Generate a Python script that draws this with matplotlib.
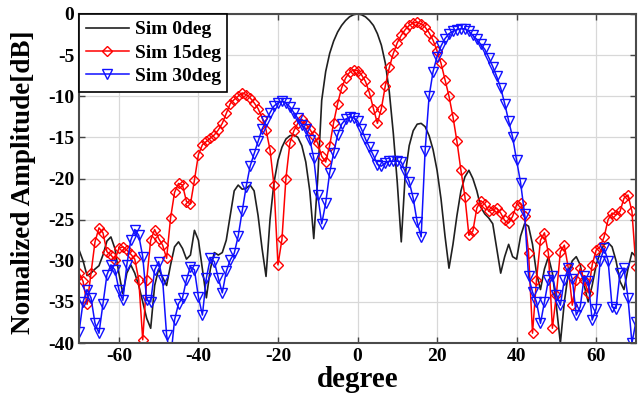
import numpy as np
import matplotlib
matplotlib.use("Agg")
import matplotlib.pyplot as plt

plt.rcParams['font.family'] = ['Liberation Serif', 'DejaVu Serif']
plt.rcParams['font.weight'] = 'bold'
plt.rcParams['axes.unicode_minus'] = False

# angulo de -70 a 70 grados, paso 1
deg = np.arange(-70, 71)

# Sim 0deg (linea negra)
sim0 = [-28.7, -30, -31.8, -31.5, -31, -30.6, -29.3, -27.6, -27.1, -28.5,
        -31.5, -34, -31.5, -30.5, -31.5, -33, -35, -37, -38.2, -33,
        -31, -32, -33, -30.5, -28.3, -27.7, -28.5, -29.8, -29.3, -26.3,
        -27.5, -31, -34.5, -31, -29, -29.3, -29, -27.5, -24.5, -21.5,
        -20.8, -21.3, -21.2, -20.8, -21.5, -24.5, -28.5, -31.9, -25, -20.5,
        -17.8, -16.2, -15.2, -14.8, -14.7, -15.0, -16, -18, -21.5, -27.3,
        -20, -10.5, -7, -4.8, -3.3, -2.2, -1.4, -0.8, -0.35, -0.1,
        0, -0.1, -0.35, -0.8, -1.4, -2.4, -3.8, -6, -9.5, -14.5,
        -20.5, -27.7, -19.5, -16, -14.2, -13.4, -13.3, -13.7, -14.8, -16.5,
        -19, -22.5, -27, -30.9, -28, -24.5, -21.5, -19.8, -19.0, -20,
        -21.5, -23.5, -24.3, -24.8, -25.5, -28.5, -31.5, -29.5, -28, -29.5,
        -29.8, -27, -25.5, -25.8, -28, -31.5, -33.5, -31, -29.5, -31.5,
        -35.5, -40, -35, -31.5, -30, -29.5, -30.5, -33, -35, -33,
        -30.5, -29, -28, -27.8, -28.3, -30, -32.5, -33.5, -31, -29,
        -29.5]

# Sim 15deg (rojo, rombos)
sim15 = [-31.5, -32.5, -35.3, -31.5, -27.7, -26, -26.6, -28.9, -29.3, -29.9,
         -28.5, -28.3, -28.7, -29.2, -29.8, -32.3, -39.6, -32.3, -27.5, -26.2,
         -27.3, -28.1, -29.7, -24.8, -21.7, -20.6, -20.8, -22.8, -23.1, -20.2,
         -17.1, -15.9, -15.5, -15.1, -14.7, -14.1, -13.3, -12.1, -10.9, -10.4,
         -10, -9.6, -9.8, -10.2, -10.8, -11.5, -12.6, -14.1, -16.5, -20.8,
         -30.5, -27.4, -20, -15.7, -14.2, -13.3, -12.8, -13.4, -14, -14.8,
         -15.7, -17.3, -18, -16, -13.2, -10.9, -9, -7.8, -7.1, -6.8,
         -6.9, -7.4, -8.2, -9.6, -11.5, -13.3, -11.5, -8.7, -6.5, -4.8,
         -3.5, -2.6, -1.9, -1.4, -1.1, -1.0, -1.2, -1.6, -2.3, -3.2,
         -4.5, -6, -8, -10, -12.5, -15.5, -19, -22.2, -26.9, -26.4,
         -23.6, -22.7, -23.1, -24, -23.8, -23.6, -24.2, -25.1, -25.4, -24.6,
         -23.2, -23, -24.5, -29, -38.8, -32.3, -27.5, -26.6, -29.1, -38.2,
         -34.1, -28.9, -28.1, -30.9, -35.4, -32.3, -30.9, -32.3, -33.9, -30.5,
         -28.7, -28.3, -27.1, -25, -24.2, -24.4, -24, -22.4, -22, -24,
         -30.7]

# Sim 30deg (azul, triangulos)
sim30 = [-38.6, -35, -33.5, -34.5, -37.6, -38.8, -35.2, -31.7, -30.5, -31.1,
         -33.5, -34.8, -30.5, -27.5, -26.2, -26.9, -29.5, -34.8, -35, -31.1,
         -30.1, -32.3, -39, -42, -37.2, -35.2, -34.5, -32.3, -30.7, -31.1,
         -34.4, -36.6, -32.1, -29.7, -30.1, -32.1, -33.9, -31.3, -29.9, -29.1,
         -27, -24, -21, -18.5, -17, -15.5, -14, -13, -12, -11.2,
         -10.8, -10.6, -10.8, -11.3, -12, -12.7, -13.5, -14, -15.3, -17.5,
         -22, -25.5, -23, -19.3, -16.9, -14.7, -13.4, -12.8, -12.5, -12.6,
         -13, -14, -15.2, -16.2, -17.2, -18.3, -18.5, -18.1, -17.9, -17.9,
         -17.9, -18, -19.2, -20.4, -22.4, -25.3, -27.1, -16.6, -10, -7,
         -5.2, -3.9, -3, -2.4, -2.1, -1.9, -1.8, -1.8, -2.1, -2.6,
         -3.1, -3.7, -4.3, -5.3, -6.4, -7.6, -9, -10.9, -13, -15,
         -17.8, -20.5, -24.3, -31.9, -33.8, -35, -37.6, -35, -32.3, -31.9,
         -34.1, -35.4, -32.3, -30.9, -32.2, -36.6, -35.6, -31.9, -32.5, -37.2,
         -35.8, -30, -28.5, -30, -35.6, -35.8, -31.5, -30.9, -34.5, -40,
         -37.4]

xticks = [-60, -40, -20, 0, 20, 40, 60]
yticks = [0, -5, -10, -15, -20, -25, -30, -35, -40]

fig, ax = plt.subplots(figsize=(6.43, 3.98), dpi=100)
fig.subplots_adjust(left=0.123, right=0.989, bottom=0.138, top=0.965)

ax.plot(deg, sim0, color='#202020', lw=1.2, label='Sim 0deg')
ax.plot(deg, sim15, color='#ff0000', lw=1.1, marker='D', ms=5,
        mfc='none', mew=1.0, label='Sim 15deg')
ax.plot(deg, sim30, color='#1010ff', lw=1.1, marker='v', ms=6.5,
        mfc='none', mew=1.0, label='Sim 30deg')

ax.set_xlim(-70, 70)
ax.set_ylim(-40, 0)
ax.set_xticks(xticks)
ax.set_yticks(yticks)
ax.grid(True, color='#d8d8d8', lw=0.9)
ax.set_axisbelow(True)
ax.tick_params(direction='in', top=True, right=True, length=4,
               labelsize=14, color='#444444', width=1.0)
for s in ax.spines.values():
    s.set_color('#4a4a4a')
    s.set_linewidth(1.5)

ax.set_xlabel('degree', fontsize=21, fontweight='bold', labelpad=1)
ax.set_ylabel('Nomalized Amplitude[dB]', fontsize=19.5, fontweight='bold', labelpad=0)
ax.yaxis.set_label_coords(-0.078, 0.49)

leg = ax.legend(loc='upper left', bbox_to_anchor=(0, 1), borderaxespad=0,
                handlelength=2.2, labelspacing=0.3, handletextpad=0.3,
                borderpad=0.35, fancybox=False,
                prop={'weight': 'bold', 'size': 14})
leg.get_frame().set_edgecolor('black')
leg.get_frame().set_linewidth(1.2)
leg.get_frame().set_alpha(1)

plt.savefig('out.png', dpi=100)
